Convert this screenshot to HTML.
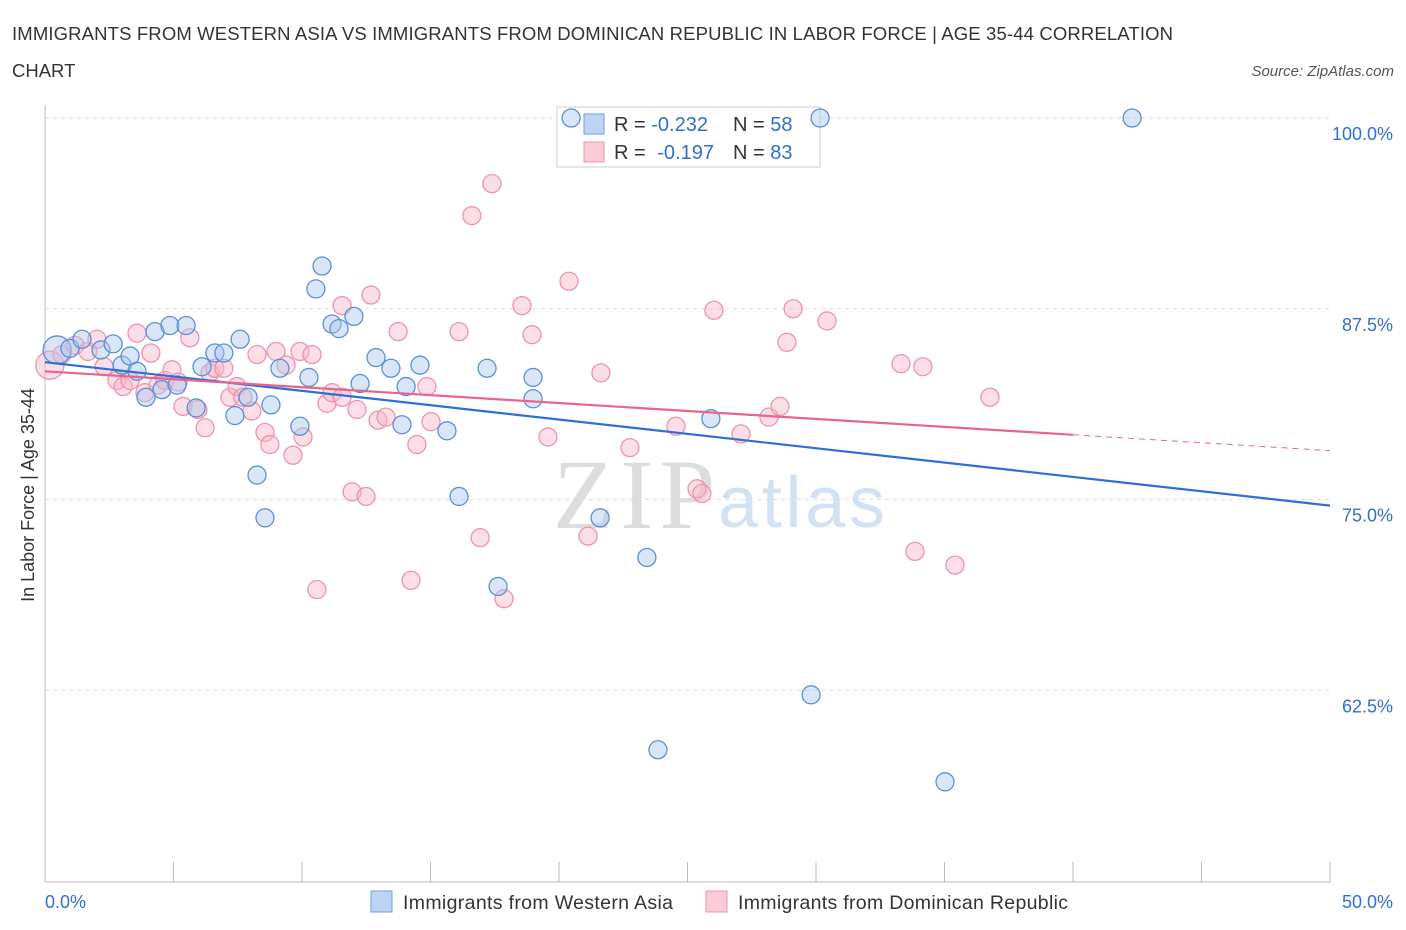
<!DOCTYPE html>
<html><head><meta charset="utf-8"><style>
body{margin:0;background:#fff;font-family:"Liberation Sans",sans-serif}
svg{display:block}
</style></head><body>
<svg width="1406" height="930" id="chart">
<text x="12" y="40" font-size="18.5" fill="#333" textLength="1161">IMMIGRANTS FROM WESTERN ASIA VS IMMIGRANTS FROM DOMINICAN REPUBLIC IN LABOR FORCE | AGE 35-44 CORRELATION</text>
<text x="12" y="77" font-size="18.5" fill="#333">CHART</text>
<text x="1394" y="76" font-size="15" fill="#555" font-style="italic" text-anchor="end">Source: ZipAtlas.com</text>
<text x="553" y="528" font-size="100" fill="#ddd" textLength="162" font-family="Liberation Serif">ZIP</text>
<text x="718" y="527" font-size="72" fill="#d3e2f3" textLength="167">atlas</text>
<g id="grid"></g>
<g id="axes"></g>
<g>
<rect x="557" y="107" width="263" height="60" fill="#fff" stroke="#ccc"/>
<rect x="584" y="114" width="20" height="20" fill="#bcd5f5" stroke="#6f9ee0"/>
<rect x="584" y="142" width="20" height="20" fill="#fbcbd8" stroke="#ec93ae"/>
<text x="614" y="131" font-size="20" fill="#333">R = <tspan fill="#2f6fd0">-0.232</tspan><tspan x="733">N = </tspan><tspan fill="#2f6fd0">58</tspan></text>
<text x="614" y="159" font-size="20" fill="#333">R = <tspan fill="#2f6fd0" dx="6">-0.197</tspan><tspan x="733">N = </tspan><tspan fill="#2f6fd0">83</tspan></text>
</g>
<g id="pts"></g>
<g id="lines"></g>
<text transform="translate(34,495) rotate(-90)" font-size="18" fill="#333" text-anchor="middle">In Labor Force | Age 35-44</text>
<g>
<rect x="371" y="891" width="21" height="21" fill="#bcd5f5" stroke="#6f9ee0"/>
<text x="403" y="909" font-size="19.5" fill="#333" textLength="270">Immigrants from Western Asia</text>
<rect x="706" y="891" width="21" height="21" fill="#fbcbd8" stroke="#ec93ae"/>
<text x="738" y="909" font-size="19.5" fill="#333" textLength="330">Immigrants from Dominican Republic</text>
</g>
</svg>
<script>
const blueX=[0.47,0.97,1.44,2.18,2.65,3.0,3.31,3.58,3.93,4.28,4.55,4.86,5.14,5.49,5.88,6.11,6.61,6.96,7.39,7.59,7.9,8.25,8.56,8.79,9.14,9.92,10.27,10.54,10.78,11.17,11.44,12.02,12.26,12.88,13.46,13.89,14.05,14.59,15.64,16.11,17.2,17.63,18.99,18.99,20.47,21.6,23.42,23.85,25.91,29.81,30.16,35.02,42.3];
const blueY=[84.8,84.9,85.5,84.8,85.2,83.8,84.4,83.4,81.7,86.0,82.2,86.4,82.5,86.4,81.0,83.7,84.6,84.6,80.5,85.5,81.7,76.6,73.8,81.2,83.6,79.8,83.0,88.8,90.3,86.5,86.2,87.0,82.6,84.3,83.6,79.9,82.4,83.8,79.5,75.2,83.6,69.3,83.0,81.6,100,73.8,71.2,58.6,80.3,62.2,100,56.5,100];
const pinkX=[0.19,0.66,1.17,1.67,2.02,2.30,2.80,3.04,3.31,3.58,3.89,4.12,4.40,4.67,4.94,5.18,5.37,5.64,5.95,6.23,6.42,6.61,6.96,7.2,7.47,7.7,8.05,8.25,8.56,8.75,8.99,9.38,9.65,9.92,10.04,10.39,10.58,10.97,11.17,11.56,11.56,11.95,12.14,12.49,12.68,12.96,13.27,13.74,14.24,14.47,14.86,15.02,16.11,16.61,16.93,17.39,17.86,18.56,18.95,19.57,20.39,21.13,21.63,22.76,24.55,25.37,25.56,26.03,27.08,28.17,28.6,28.87,29.11,30.43,33.31,33.85,34.16,35.41,36.77];
const pinkY=[83.8,84.5,85.1,84.7,85.5,83.7,82.8,82.4,82.8,85.9,82.0,84.6,82.5,82.8,83.5,82.7,81.1,85.6,80.9,79.7,83.3,83.6,83.6,81.7,82.4,81.7,80.8,84.5,79.4,78.6,84.7,83.8,77.9,84.7,79.1,84.5,69.1,81.3,82.0,81.7,87.7,75.5,80.9,75.2,88.4,80.2,80.4,86.0,69.7,78.6,82.4,80.1,86.0,93.6,72.5,95.7,68.5,87.7,85.8,79.1,89.3,72.6,83.3,78.4,79.8,75.7,75.4,87.4,79.3,80.4,81.1,85.3,87.5,86.7,83.9,71.6,83.7,70.7,81.7];
const yTicks=[100,87.5,75,62.5];
const yTickLabels=["100.0%","87.5%","75.0%","62.5%"];
const blueFit=[84.0,74.6];
const pinkFit=[83.4,78.2];
const pinkSolidEnd=40;
const NS="http://www.w3.org/2000/svg";
const sx=v=>45+v*25.7, sy=v=>118+(100-v)*15.26;
function mk(tag,attrs,parent){const e=document.createElementNS(NS,tag);for(const k in attrs)e.setAttribute(k,attrs[k]);parent.appendChild(e);return e;}
const grid=document.getElementById('grid'),axes=document.getElementById('axes'),pts=document.getElementById('pts'),lines=document.getElementById('lines');
yTicks.forEach((t,i)=>{
 const l=mk('line',{x1:45,x2:1330,y1:sy(t),y2:sy(t),stroke:'#ddd','stroke-dasharray':'4,4'},grid);
 
 
 const tx=mk('text',{x:1393,y:sy(t)+22,'font-size':18,fill:'#2f6fd0','text-anchor':'end'},axes);
 tx.textContent=yTickLabels[i];
 
 
});
const ya=mk('line',{x1:45,x2:45,y1:105,y2:882,stroke:'#bbb'},axes);


const xa=mk('line',{x1:45,x2:1330,y1:882,y2:882,stroke:'#bbb'},axes);


for(let v=5;v<=50;v+=5){
 const t=mk('line',{x1:sx(v),x2:sx(v),y1:862,y2:882,stroke:'#bbb'},axes);
 
 
}
[[0,"0.0%","start",45],[50,"50.0%","end",1393]].forEach(a=>{
 const t=mk('text',{x:a[3],y:908,'font-size':18,fill:'#2f6fd0','text-anchor':a[2]},axes);
 t.textContent=a[1];
 
 
});
function dots(X,Y,fill,stroke,name){
 X.forEach((x,i)=>{
  const c=mk('circle',{cx:sx(x),cy:sy(Y[i]),r:(i===0?14:9),fill:fill,'fill-opacity':0.45,stroke:stroke,'stroke-width':1.3},pts);
  
  
 });
}
dots(pinkX,pinkY,'#f9b5c8','#ec93ae','pink-point');
dots(blueX,blueY,'#aac8f0','#5b8fda','blue-point');
const fy=(f,x)=>f[0]+(f[1]-f[0])*x/50;
const bl=mk('line',{x1:sx(0),y1:sy(fy(blueFit,0)),x2:sx(50),y2:sy(fy(blueFit,50)),stroke:'#2d6fd6','stroke-width':2.2},lines);


const pl=mk('line',{x1:sx(0),y1:sy(fy(pinkFit,0)),x2:sx(pinkSolidEnd),y2:sy(fy(pinkFit,pinkSolidEnd)),stroke:'#e8648e','stroke-width':2.2},lines);


const pd=mk('line',{x1:sx(pinkSolidEnd),y1:sy(fy(pinkFit,pinkSolidEnd)),x2:sx(50),y2:sy(fy(pinkFit,50)),stroke:'#e8648e','stroke-width':1,'stroke-dasharray':'6,5'},lines);


</script>
</body></html>
